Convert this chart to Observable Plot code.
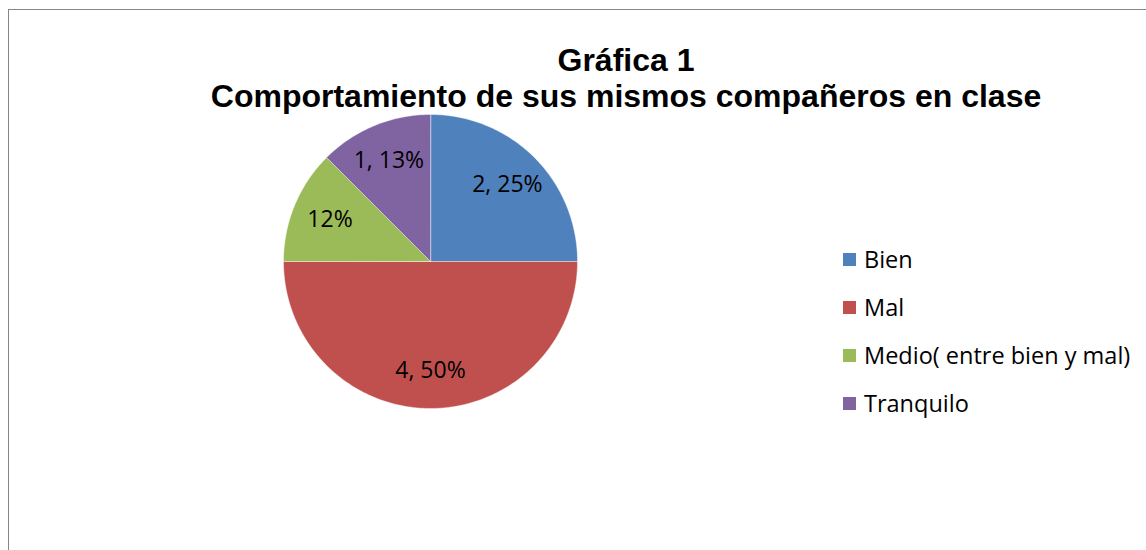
<!DOCTYPE html>
<html>
<head>
<meta charset="utf-8">
<script src="https://cdn.jsdelivr.net/npm/d3@7"></script>
<script src="https://cdn.jsdelivr.net/npm/@observablehq/plot@0.6"></script>
<style>
  html, body { margin: 0; padding: 0; background: #fff; }
  #wrap { position: relative; width: 1146px; height: 550px; overflow: hidden; background: #fff; }
  #frame { position: absolute; left: 8px; top: 9px; width: 1200px; height: 700px;
           border-left: 1px solid #868686; border-top: 1px solid #868686; }
  #chart { position: absolute; left: 0; top: 0; }
  .title { position: absolute; left: 0; width: 1252px; text-align: center;
           font-family: "Liberation Sans", Arial, sans-serif; font-weight: bold;
           font-size: 32px; color: #000; white-space: nowrap; line-height: 1; }
  #legend { position: absolute; left: 843px; top: 235px;
            font-family: "Open Sans", "Noto Sans", sans-serif; font-size: 23.5px; color: #000; }
  .item { display: flex; align-items: center; height: 48px; white-space: nowrap; }
  .sw { width: 13px; height: 13px; margin-right: 8px; flex: none; }
</style>
</head>
<body>
<div id="wrap">
  <div id="frame"></div>
  <div id="chart"></div>
  <div class="title" style="top:44px">Gráfica 1</div>
  <div class="title" style="top:80px">Comportamiento de sus mismos compañeros en clase</div>
  <div id="legend"></div>
</div>
<script>
const categories = ["Bien", "Mal", "Medio( entre bien y mal)", "Tranquilo"];
const values = [2, 4, 1, 1];
const labels = ["2, 25%", "4, 50%", "12%", "1, 13%"];
const colors = ["#4F81BD", "#C0504D", "#9BBB59", "#8064A2"];

// pie layout (clockwise from 12 o'clock, in order)
const arcs = d3.pie().sort(null).value(d => d)(values);

// geometry for each slice (unit circle, y pointing down)
function pt(a, r) { return [r * Math.sin(a), -r * Math.cos(a)]; }
const slices = arcs.map((a, i) => {
  const ring = [[0, 0]];
  const n = Math.max(2, Math.ceil((a.endAngle - a.startAngle) / (Math.PI / 180)));
  for (let k = 0; k <= n; k++) ring.push(pt(a.startAngle + (a.endAngle - a.startAngle) * k / n, 1));
  ring.push([0, 0]);
  return {type: "Feature", properties: {name: categories[i]}, geometry: {type: "Polygon", coordinates: [ring]}};
});

const labelData = arcs.map((a, i) => {
  const m = (a.startAngle + a.endAngle) / 2;
  const [x, y] = pt(m, 0.74);
  return {x, y, label: labels[i]};
});

const domainSquare = {type: "Polygon", coordinates: [[[-1, -1], [1, -1], [1, 1], [-1, 1], [-1, -1]]]};

const chart = Plot.plot({
  width: 1146,
  height: 550,
  marginTop: 114,
  marginBottom: 142,
  marginLeft: 283,
  marginRight: 569,
  projection: {type: "identity", domain: domainSquare},
  color: {domain: categories, range: colors},
  style: {background: "transparent"},
  marks: [
    Plot.geo(slices, {fill: d => d.properties.name, stroke: "#ffffff", strokeWidth: 0.6, strokeOpacity: 0.7}),
    Plot.text(labelData, {x: "x", y: "y", text: "label", fill: "#000",
      fontSize: 23, fontFamily: "'Open Sans', 'Noto Sans', sans-serif"})
  ]
});
document.getElementById("chart").appendChild(chart);

const legend = document.getElementById("legend");
categories.forEach((c, i) => {
  const item = document.createElement("div");
  item.className = "item";
  const sw = document.createElement("span");
  sw.className = "sw";
  sw.style.background = colors[i];
  const t = document.createElement("span");
  t.textContent = c;
  item.appendChild(sw);
  item.appendChild(t);
  legend.appendChild(item);
});
</script>
</body>
</html>
